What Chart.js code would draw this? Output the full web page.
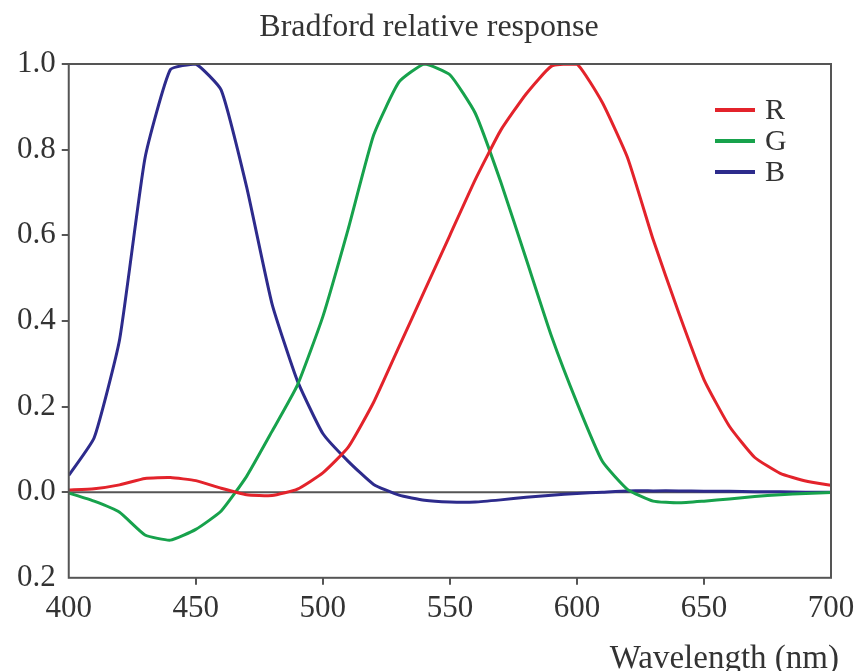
<!DOCTYPE html>
<html>
<head>
<meta charset="utf-8">
<script src="https://cdn.jsdelivr.net/npm/chart.js@4/dist/chart.umd.min.js"></script>
<style>
  html, body { margin: 0; padding: 0; background: #fff; }
  #wrap { width: 860px; height: 671px; }
</style>
</head>
<body>
<div id="wrap"><canvas id="bradfordChart"></canvas></div>
<script>
// wavelengths (nm), 10 nm steps
const wavelengths = [400,410,420,430,440,450,460,470,480,490,500,510,520,530,540,550,560,570,580,590,600,610,620,630,640,650,660,670,680,690,700];
const redValues   = [0.005,0.008,0.017,0.032,0.034,0.027,0.009,-0.006,-0.008,0.007,0.045,0.105,0.21,0.34,0.47,0.6,0.73,0.845,0.93,0.995,1.0,0.91,0.78,0.59,0.42,0.263,0.154,0.081,0.044,0.026,0.016];
const greenValues = [-0.002,-0.021,-0.047,-0.1,-0.112,-0.087,-0.044,0.037,0.142,0.25,0.41,0.615,0.834,0.958,1.0,0.975,0.885,0.725,0.545,0.364,0.209,0.072,0.006,-0.021,-0.025,-0.021,-0.016,-0.01,-0.006,-0.003,-0.001];
const blueValues  = [0.039,0.127,0.356,0.78,0.987,1.0,0.939,0.713,0.44,0.26,0.137,0.072,0.018,-0.007,-0.019,-0.023,-0.023,-0.018,-0.012,-0.007,-0.003,0.0,0.003,0.003,0.003,0.002,0.002,0.001,0.001,0.0,0.0];
const seriesLabels = ['R', 'G', 'B'];
const seriesColors = ['#e3232b', '#17a24c', '#2d2b8c'];
const xTicks = [400, 450, 500, 550, 600, 650, 700];
const yTicks = [-0.2, 0, 0.2, 0.4, 0.6, 0.8, 1.0];
const chartTitle = 'Bradford relative response';
const xTitle = 'Wavelength (nm)';

const axisColor = '#555555';
const textColor = '#333333';
const serif = "'Liberation Serif', 'DejaVu Serif', serif";

function toPoints(values) {
  return wavelengths.map((w, i) => ({ x: w, y: values[i] }));
}

// frame, zero line, titles and the R/G/B key inside the plot
const framePlugin = {
  id: 'frame',
  beforeDatasetsDraw(chart) {
    const { ctx, chartArea, scales } = chart;
    const y0 = scales.y.getPixelForValue(0);
    ctx.save();
    ctx.strokeStyle = axisColor;
    ctx.lineWidth = 2;
    ctx.beginPath();
    ctx.moveTo(chartArea.left, y0);
    ctx.lineTo(chartArea.right, y0);
    ctx.stroke();
    ctx.restore();
  },
  afterDatasetsDraw(chart) {
    const { ctx, chartArea } = chart;
    ctx.save();
    ctx.strokeStyle = axisColor;
    ctx.lineWidth = 2;
    ctx.strokeRect(chartArea.left, chartArea.top, chartArea.right - chartArea.left, chartArea.bottom - chartArea.top);

    // titles
    ctx.fillStyle = textColor;
    ctx.textBaseline = 'middle';
    ctx.font = '32px ' + serif;
    ctx.textAlign = 'center';
    ctx.fillText(chartTitle, 429, 28);
    ctx.font = '33px ' + serif;
    ctx.textAlign = 'right';
    ctx.fillText(xTitle, chartArea.right + 8, 659);

    // key
    const x1 = chartArea.right - 116, x2 = chartArea.right - 76;
    let y = chartArea.top + 46;
    ctx.font = '30px ' + serif;
    ctx.textAlign = 'left';
    chart.data.datasets.forEach(ds => {
      ctx.strokeStyle = ds.borderColor;
      ctx.lineWidth = 4;
      ctx.beginPath();
      ctx.moveTo(x1, y);
      ctx.lineTo(x2, y);
      ctx.stroke();
      ctx.fillStyle = textColor;
      ctx.fillText(ds.label, x2 + 10, y + 1);
      y += 31;
    });
    ctx.restore();
  }
};

const hideEnds = (vals) => (c) => (c.tick && vals.includes(c.tick.value)) ? 'rgba(0,0,0,0)' : axisColor;

const bradfordChart = document.getElementById('bradfordChart');
new Chart(bradfordChart, {
  type: 'line',
  data: {
    datasets: [redValues, greenValues, blueValues].map((vals, i) => ({
      label: seriesLabels[i],
      data: toPoints(vals),
      borderColor: seriesColors[i],
      backgroundColor: seriesColors[i],
      borderWidth: 3,
      pointRadius: 0,
      tension: 0.15,
      fill: false
    }))
  },
  options: {
    responsive: true,
    maintainAspectRatio: false,
    animation: false,
    layout: { padding: { left: 11, right: 29, top: 64, bottom: 39 } },
    plugins: {
      legend: { display: false },
      tooltip: { enabled: false },
      title: { display: false }
    },
    scales: {
      x: {
        type: 'linear',
        min: xTicks[0],
        max: xTicks[xTicks.length - 1],
        afterBuildTicks: (axis) => { axis.ticks = xTicks.map(v => ({ value: v })); },
        border: { display: false },
        grid: {
          drawOnChartArea: false,
          drawTicks: true,
          tickLength: 7,
          lineWidth: 2,
          color: hideEnds([400, 700])
        },
        ticks: {
          color: textColor,
          font: { family: serif, size: 31 },
          padding: 5,
          maxRotation: 0
        }
      },
      y: {
        min: yTicks[0],
        max: yTicks[yTicks.length - 1],
        afterBuildTicks: (axis) => { axis.ticks = yTicks.map(v => ({ value: v })); },
        border: { display: false },
        grid: {
          drawOnChartArea: false,
          drawTicks: true,
          tickLength: 7,
          lineWidth: 2,
          color: hideEnds([-0.2])
        },
        ticks: {
          color: textColor,
          font: { family: serif, size: 31 },
          padding: 6,
          callback: (v) => Math.abs(v).toFixed(1)
        }
      }
    }
  },
  plugins: [framePlugin]
});
</script>
</body>
</html>
